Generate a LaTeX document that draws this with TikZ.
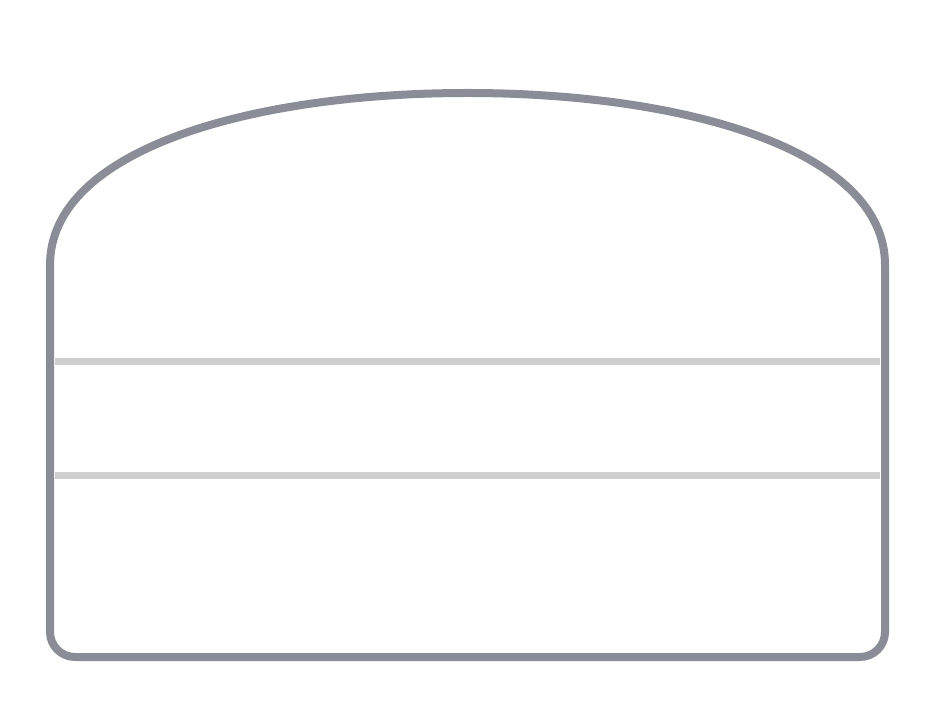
\documentclass[tikz,border=0pt]{standalone}
\definecolor{outl}{HTML}{8A8D97}
\definecolor{divl}{HTML}{CFCFCF}
\begin{document}
\begin{tikzpicture}[x=1pt,y=1pt,
  outline/.style={draw=outl, line width=8pt, line join=round},
  divider/.style={draw=divl, line width=7pt}]
\useasboundingbox (0,0) rectangle (939,720);
\coordinate (L1) at (55,358);
\coordinate (R1) at (880,358);
\coordinate (L2) at (55,244);
\coordinate (R2) at (880,244);
\draw[divider] (L1) -- (R1);
\draw[divider] (L2) -- (R2);
\draw[outline]
  (50,455) -- (50,88) arc[start angle=180, end angle=270, radius=25]
  -- (860,63) arc[start angle=270, end angle=360, radius=25]
  -- (885,455)
  .. controls (885,570) and (685,627) .. (467.5,627)
  .. controls (250,627) and (50,570) .. (50,455) -- cycle;
\end{tikzpicture}
\end{document}
